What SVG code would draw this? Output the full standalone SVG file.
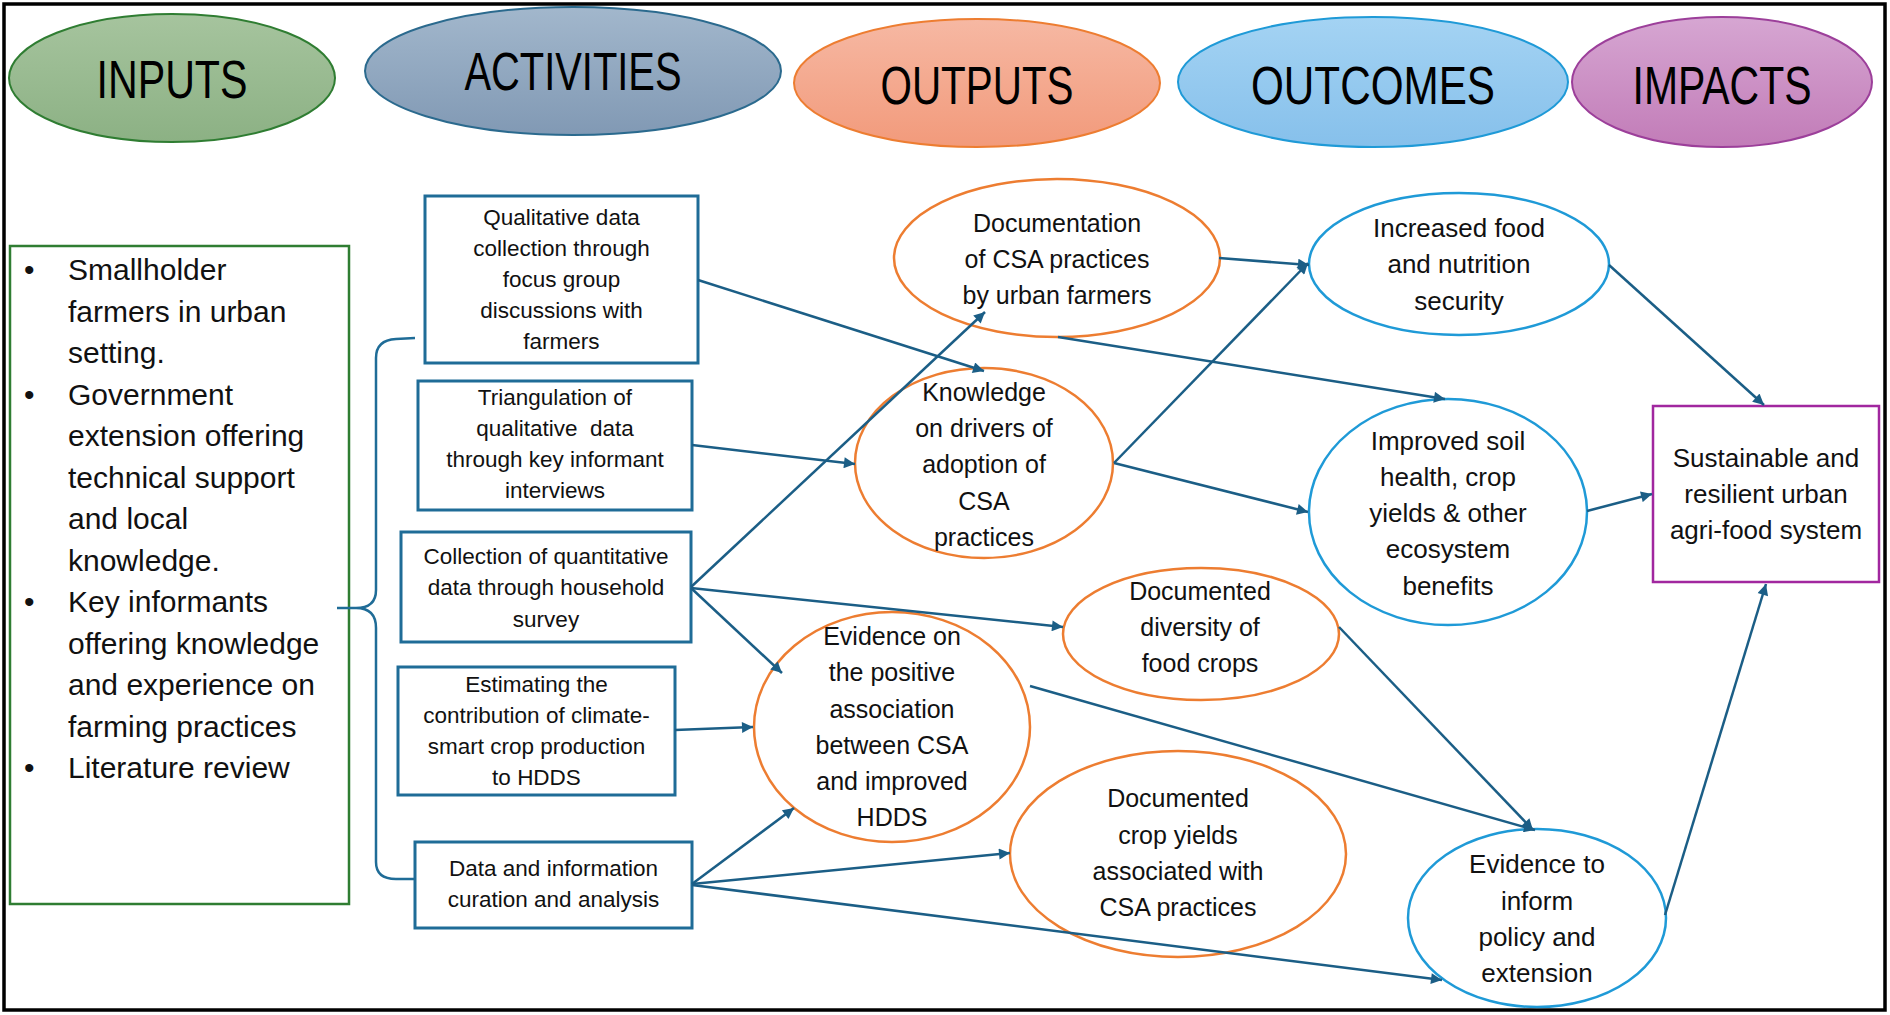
<svg xmlns="http://www.w3.org/2000/svg" width="1890" height="1015" viewBox="0 0 1890 1015">
<defs>
<linearGradient id="gIn" x1="0" y1="0" x2="0" y2="1"><stop offset="0" stop-color="#a6c49e"/><stop offset="1" stop-color="#8cb184"/></linearGradient>
<linearGradient id="gAc" x1="0" y1="0" x2="0" y2="1"><stop offset="0" stop-color="#a2b7cc"/><stop offset="1" stop-color="#8199b4"/></linearGradient>
<linearGradient id="gOu" x1="0" y1="0" x2="0" y2="1"><stop offset="0" stop-color="#f6b8a3"/><stop offset="1" stop-color="#f29a7b"/></linearGradient>
<linearGradient id="gOc" x1="0" y1="0" x2="0" y2="1"><stop offset="0" stop-color="#a4d3f3"/><stop offset="1" stop-color="#86c0eb"/></linearGradient>
<linearGradient id="gIm" x1="0" y1="0" x2="0" y2="1"><stop offset="0" stop-color="#d6a6d2"/><stop offset="1" stop-color="#c27cb8"/></linearGradient>
<marker id="ah" viewBox="0 0 10 10" refX="10" refY="5" markerWidth="13" markerHeight="11" markerUnits="userSpaceOnUse" orient="auto">
<path d="M0,0 L10,5 L0,10 z" fill="#1b5e86"/>
</marker>
</defs>
<style>
.hdr{font-family:"Liberation Sans",Arial,sans-serif;font-size:54px;fill:#000;text-anchor:middle}
.inp{font-family:"Liberation Sans",Arial,sans-serif;font-size:30px;fill:#111}
.act{font-family:"Liberation Sans",Arial,sans-serif;font-size:22.5px;fill:#111;text-anchor:middle}
.out{font-family:"Liberation Sans",Arial,sans-serif;font-size:25px;fill:#111;text-anchor:middle}
.oc{font-family:"Liberation Sans",Arial,sans-serif;font-size:26px;fill:#111;text-anchor:middle}
.abox{fill:#fff;stroke:#1f6c97;stroke-width:3}
.oel{fill:#fff;stroke:#ed7d31;stroke-width:2.5}
.cel{fill:#fff;stroke:#1f9ad7;stroke-width:2.5}
.con{fill:none;stroke:#1b5e86;stroke-width:2.5;marker-end:url(#ah)}
.brace{fill:none;stroke:#1f6c97;stroke-width:2.5}
</style>
<rect x="0" y="0" width="1890" height="1015" fill="#fff"/>
<rect x="4" y="4" width="1881" height="1006" fill="none" stroke="#000" stroke-width="3.5"/>

<g id="hdr-inputs">
<ellipse cx="172" cy="78" rx="163" ry="64" fill="url(#gIn)" stroke="#2f7d32" stroke-width="2"/>
<text class="hdr" x="172" y="98" textLength="151" lengthAdjust="spacingAndGlyphs">INPUTS</text>
</g>
<g id="hdr-activities">
<ellipse cx="573" cy="71" rx="208" ry="64" fill="url(#gAc)" stroke="#2b6a8e" stroke-width="2"/>
<text class="hdr" x="573" y="90" textLength="217" lengthAdjust="spacingAndGlyphs">ACTIVITIES</text>
</g>
<g id="hdr-outputs">
<ellipse cx="977" cy="83" rx="183" ry="64" fill="url(#gOu)" stroke="#ed7d31" stroke-width="2"/>
<text class="hdr" x="977" y="104" textLength="193" lengthAdjust="spacingAndGlyphs">OUTPUTS</text>
</g>
<g id="hdr-outcomes">
<ellipse cx="1373" cy="82" rx="195" ry="65" fill="url(#gOc)" stroke="#1f9ad7" stroke-width="2"/>
<text class="hdr" x="1373" y="104" textLength="244" lengthAdjust="spacingAndGlyphs">OUTCOMES</text>
</g>
<g id="hdr-impacts">
<ellipse cx="1722" cy="82" rx="150" ry="65" fill="url(#gIm)" stroke="#9c3f9a" stroke-width="2"/>
<text class="hdr" x="1722" y="104" textLength="179" lengthAdjust="spacingAndGlyphs">IMPACTS</text>
</g>

<g id="inputs">
<rect x="10" y="246" width="339" height="658" fill="#fff" stroke="#2f7d32" stroke-width="2.5"/>
<text class="inp">
<tspan x="24" y="280">•</tspan><tspan x="68" y="280">Smallholder</tspan>
<tspan x="68" y="321.5">farmers in urban</tspan>
<tspan x="68" y="363">setting.</tspan>
<tspan x="24" y="404.5">•</tspan><tspan x="68" y="404.5">Government</tspan>
<tspan x="68" y="446">extension offering</tspan>
<tspan x="68" y="487.5">technical support</tspan>
<tspan x="68" y="529">and local</tspan>
<tspan x="68" y="570.5">knowledge.</tspan>
<tspan x="24" y="612">•</tspan><tspan x="68" y="612">Key informants</tspan>
<tspan x="68" y="653.5">offering knowledge</tspan>
<tspan x="68" y="695">and experience on</tspan>
<tspan x="68" y="736.5">farming practices</tspan>
<tspan x="24" y="778">•</tspan><tspan x="68" y="778">Literature review</tspan>
</text>
</g>

<g id="act1">
<rect class="abox" x="425" y="196" width="273" height="167"/>
<text class="act"><tspan x="561.5" y="225">Qualitative data</tspan><tspan x="561.5" y="256">collection through</tspan><tspan x="561.5" y="287">focus group</tspan><tspan x="561.5" y="318">discussions with</tspan><tspan x="561.5" y="349">farmers</tspan></text>
</g>
<g id="act2">
<rect class="abox" x="418" y="381" width="274" height="129"/>
<text class="act"><tspan x="555" y="405">Triangulation of</tspan><tspan x="555" y="436">qualitative&#160; data</tspan><tspan x="555" y="467">through key informant</tspan><tspan x="555" y="498">interviews</tspan></text>
</g>
<g id="act3">
<rect class="abox" x="401" y="532" width="290" height="110"/>
<text class="act"><tspan x="546" y="564">Collection of quantitative</tspan><tspan x="546" y="595">data through household</tspan><tspan x="546" y="627">survey</tspan></text>
</g>
<g id="act4">
<rect class="abox" x="398" y="667" width="277" height="128"/>
<text class="act"><tspan x="536.5" y="692">Estimating the</tspan><tspan x="536.5" y="723">contribution of climate-</tspan><tspan x="536.5" y="754">smart crop production</tspan><tspan x="536.5" y="785">to HDDS</tspan></text>
</g>
<g id="act5">
<rect class="abox" x="415" y="842" width="277" height="86"/>
<text class="act"><tspan x="553.5" y="876">Data and information</tspan><tspan x="553.5" y="907">curation and analysis</tspan></text>
</g>

<g id="out1">
<ellipse class="oel" cx="1057" cy="258" rx="163" ry="79"/>
<text class="out"><tspan x="1057" y="232">Documentation</tspan><tspan x="1057" y="268">of CSA practices</tspan><tspan x="1057" y="304">by urban farmers</tspan></text>
</g>
<g id="out2">
<ellipse class="oel" cx="984" cy="463" rx="129" ry="95"/>
<text class="out"><tspan x="984" y="401">Knowledge</tspan><tspan x="984" y="437">on drivers of</tspan><tspan x="984" y="473">adoption of</tspan><tspan x="984" y="510">CSA</tspan><tspan x="984" y="546">practices</tspan></text>
</g>
<g id="out3">
<ellipse class="oel" cx="1201" cy="634" rx="138" ry="66"/>
<text class="out"><tspan x="1200" y="600">Documented</tspan><tspan x="1200" y="636">diversity of</tspan><tspan x="1200" y="672">food crops</tspan></text>
</g>
<g id="out4">
<ellipse class="oel" cx="892" cy="727" rx="138" ry="115"/>
<text class="out"><tspan x="892" y="645">Evidence on</tspan><tspan x="892" y="681">the positive</tspan><tspan x="892" y="718">association</tspan><tspan x="892" y="754">between CSA</tspan><tspan x="892" y="790">and improved</tspan><tspan x="892" y="826">HDDS</tspan></text>
</g>
<g id="out5">
<ellipse class="oel" cx="1178" cy="854" rx="168" ry="103"/>
<text class="out"><tspan x="1178" y="807">Documented</tspan><tspan x="1178" y="844">crop yields</tspan><tspan x="1178" y="880">associated with</tspan><tspan x="1178" y="916">CSA practices</tspan></text>
</g>

<g id="oc1">
<ellipse class="cel" cx="1459" cy="264" rx="150" ry="71"/>
<text class="oc"><tspan x="1459" y="237">Increased food</tspan><tspan x="1459" y="273">and nutrition</tspan><tspan x="1459" y="310">security</tspan></text>
</g>
<g id="oc2">
<ellipse class="cel" cx="1448" cy="512" rx="139" ry="113"/>
<text class="oc"><tspan x="1448" y="450">Improved soil</tspan><tspan x="1448" y="486">health, crop</tspan><tspan x="1448" y="522">yields &amp; other</tspan><tspan x="1448" y="558">ecosystem</tspan><tspan x="1448" y="595">benefits</tspan></text>
</g>
<g id="oc3">
<ellipse class="cel" cx="1537" cy="918" rx="129" ry="89"/>
<text class="oc"><tspan x="1537" y="873">Evidence to</tspan><tspan x="1537" y="910">inform</tspan><tspan x="1537" y="946">policy and</tspan><tspan x="1537" y="982">extension</tspan></text>
</g>

<g id="impact">
<rect x="1653" y="406" width="226" height="176" fill="#fff" stroke="#a1279f" stroke-width="2.5"/>
<text class="oc"><tspan x="1766" y="467">Sustainable and</tspan><tspan x="1766" y="503">resilient urban</tspan><tspan x="1766" y="539">agri-food system</tspan></text>
</g>

<g id="connectors">
<path class="brace" d="M337,608 L356,608 Q376,608 376,590 L376,358 Q376,340 396,339 L415,338 M356,608 Q376,608 376,628 L376,862 Q376,879 396,879 L415,879"/>
<line class="con" x1="698" y1="280" x2="984" y2="371"/>
<line class="con" x1="692" y1="445" x2="855" y2="464"/>
<line class="con" x1="691" y1="587" x2="985" y2="312"/>
<line class="con" x1="691" y1="588" x2="1063" y2="627"/>
<line class="con" x1="691" y1="588" x2="782" y2="673"/>
<line class="con" x1="675" y1="730" x2="753" y2="727"/>
<line class="con" x1="692" y1="884" x2="794" y2="808"/>
<line class="con" x1="692" y1="884" x2="1010" y2="853"/>
<line class="con" x1="692" y1="885" x2="1442" y2="980"/>
<line class="con" x1="1219" y1="258" x2="1309" y2="265"/>
<line class="con" x1="1058" y1="337" x2="1445" y2="399"/>
<line class="con" x1="1114" y1="463" x2="1308" y2="263"/>
<line class="con" x1="1114" y1="463" x2="1308" y2="512"/>
<line class="con" x1="1339" y1="627" x2="1533" y2="830"/>
<line class="con" x1="1030" y1="686" x2="1535" y2="830"/>
<line class="con" x1="1609" y1="265" x2="1764" y2="405"/>
<line class="con" x1="1587" y1="511" x2="1652" y2="494"/>
<line class="con" x1="1665" y1="915" x2="1766" y2="584"/>
</g>
</svg>
